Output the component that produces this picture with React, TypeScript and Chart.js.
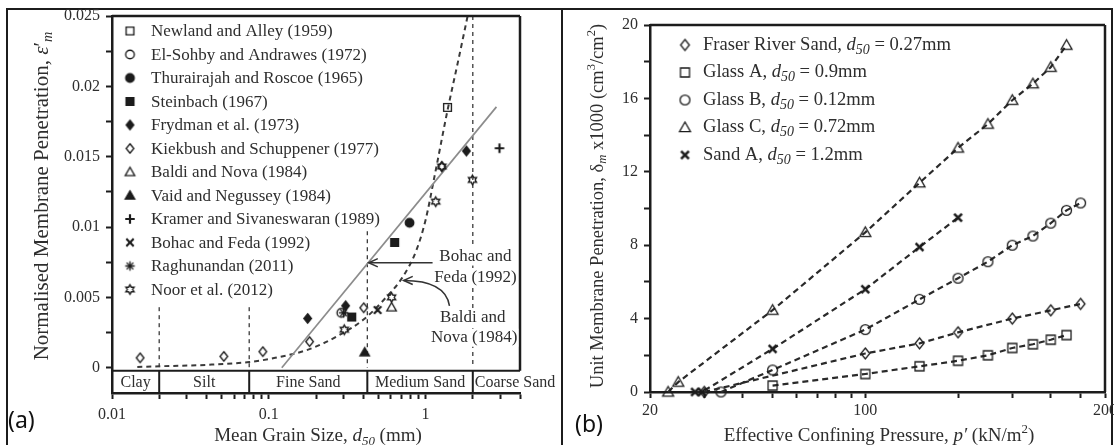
import React, { useEffect, useRef } from 'react';
import { Chart, registerables } from 'chart.js';

Chart.register(...registerables);

const SERIF = '"Liberation Serif", "Times New Roman", serif';
const SANS = '"Noto Sans", "Open Sans", sans-serif';
const TEXT = '#2e2e2e';
const INK = '#1c1c1c';

// ================= Panel (a) =================
const aSeriesNames = [
  'Newland and Alley (1959)',
  'El-Sohby and Andrawes (1972)',
  'Thurairajah and Roscoe (1965)',
  'Steinbach (1967)',
  'Frydman et al. (1973)',
  'Kiekbush and Schuppener (1977)',
  'Baldi and Nova (1984)',
  'Vaid and Negussey (1984)',
  'Kramer and Sivaneswaran (1989)',
  'Bohac and Feda (1992)',
  'Raghunandan (2011)',
  'Noor et al. (2012)',
];
const aMarkerKinds = [
  'squareOpen', 'circleOpen', 'circleFilled', 'squareFilled', 'diamondFilled', 'diamondOpen',
  'triangleOpen', 'triangleFilled', 'plus', 'cross', 'asterisk', 'hexagram',
];

const newlandD50 = [1.38];
const newlandEm = [0.0185];
const elSohbyD50 = [0.29];
const elSohbyEm = [0.0039];
const thurairajahD50 = [0.79];
const thurairajahEm = [0.0103];
const steinbachD50 = [0.338, 0.635];
const steinbachEm = [0.0036, 0.0089];
const frydmanD50 = [0.177, 0.309, 1.82];
const frydmanEm = [0.0035, 0.0044, 0.0154];
const kiekbushD50 = [0.0151, 0.0517, 0.0916, 0.182, 0.403, 1.27];
const kiekbushEm = [0.0007, 0.0008, 0.00114, 0.00185, 0.00426, 0.0143];
const baldiD50 = [0.607];
const baldiEm = [0.0043];
const vaidD50 = [0.409];
const vaidEm = [0.0011];
const kramerD50 = [2.96];
const kramerEm = [0.0156];
const bohacD50 = [0.494];
const bohacEm = [0.0041];
const raghuD50 = [0.3];
const raghuEm = [0.0039];
const noorD50 = [0.303, 0.607, 1.16, 1.27, 1.99];
const noorEm = [0.0027, 0.005, 0.0118, 0.0143, 0.01335];

const aSeriesD50 = [newlandD50, elSohbyD50, thurairajahD50, steinbachD50, frydmanD50, kiekbushD50,
  baldiD50, vaidD50, kramerD50, bohacD50, raghuD50, noorD50];
const aSeriesEm = [newlandEm, elSohbyEm, thurairajahEm, steinbachEm, frydmanEm, kiekbushEm,
  baldiEm, vaidEm, kramerEm, bohacEm, raghuEm, noorEm];

// trend lines
const bohacFitD50 = [0.121, 2.83];
const bohacFitEm = [0, 0.01854];
const baldiFitD50 = [0.0145, 0.02, 0.04, 0.075, 0.11, 0.18, 0.28, 0.41, 0.56, 0.71, 0.87, 1.0, 1.14, 1.38, 1.62, 1.87];
const baldiFitEm = [0.00005, 0.0001, 0.0002, 0.0004, 0.0007, 0.0013, 0.0023, 0.0035, 0.005, 0.0064, 0.0083, 0.0105, 0.0136, 0.0183, 0.0219, 0.0252];

const zoneBounds = [0.02, 0.075, 0.425, 2];
const zoneLineTops = [0.0043, 0.0043, 0.0097, 0.025];
const zoneNames = ['Clay', 'Silt', 'Fine Sand', 'Medium Sand', 'Coarse Sand'];

const aYMin = -0.0018;
const aYMax = 0.025;
const aYTickValues = [0, 0.005, 0.01, 0.015, 0.02, 0.025];
const aYTickLabels = ['0', '0.005', '0.01', '0.015', '0.02', '0.025'];
const aXMin = 0.01;
const aXMax = 4;
const aXTickValues = [0.01, 0.1, 1];
const aXTickLabels = ['0.01', '0.1', '1'];

// ================= Panel (b) =================
const bSeriesNames = ['Fraser River Sand', 'Glass A', 'Glass B', 'Glass C', 'Sand A'];
const bSeriesD50 = ['0.27mm', '0.9mm', '0.12mm', '0.72mm', '1.2mm'];
const bMarkerKinds = ['diamondOpen', 'squareOpen', 'circleOpen', 'triangleOpen', 'cross'];

const fraserP = [30, 100, 150, 200, 300, 400, 500];
const fraserDm = [0, 2.1, 2.65, 3.25, 4.0, 4.45, 4.8];
const glassAP = [50, 100, 150, 200, 250, 300, 350, 400, 450];
const glassADm = [0.35, 0.98, 1.4, 1.7, 2.0, 2.4, 2.6, 2.85, 3.1];
const glassBP = [34, 50, 100, 150, 200, 250, 300, 350, 400, 450, 500];
const glassBDm = [0, 1.2, 3.4, 5.05, 6.2, 7.1, 8.0, 8.5, 9.2, 9.9, 10.3];
const glassCP = [22.9, 24.7, 50, 100, 150, 200, 250, 300, 350, 400, 450];
const glassCDm = [0, 0.54, 4.46, 8.7, 11.4, 13.3, 14.6, 15.9, 16.8, 17.7, 18.9];
const sandAP = [28, 29.5, 50, 100, 150, 200];
const sandADm = [0, 0, 2.35, 5.6, 7.9, 9.5];

const bSeriesP = [fraserP, glassAP, glassBP, glassCP, sandAP];
const bSeriesDm = [fraserDm, glassADm, glassBDm, glassCDm, sandADm];

const bXMin = 20;
const bXMax = 600;
const bXTickValues = [20, 100, 600];
const bXTickLabels = ['20', '100', '200'];
const bYMin = 0;
const bYMax = 20;
const bYTickValues = [0, 4, 8, 12, 16, 20];
const bYTickLabels = ['0', '4', '8', '12', '16', '20'];

// ================= helpers =================
function logTicks(min: number, max: number): number[] {
  const out: number[] = [];
  for (let d = Math.pow(10, Math.floor(Math.log10(min))); d <= max; d *= 10) {
    for (let m = 1; m <= 9; m++) {
      const v = +(m * d).toPrecision(6);
      if (v >= min - 1e-12 && v <= max + 1e-12) out.push(v);
    }
  }
  return out;
}
function linTicks(min: number, max: number, step: number): number[] {
  const out: number[] = [];
  for (let v = min; v <= max + step * 1e-6; v += step) out.push(+v.toPrecision(8));
  return out;
}
function labelFor(v: number, values: number[], labels: string[], log: boolean): string {
  for (let i = 0; i < values.length; i++) {
    const d = log ? Math.abs(Math.log10(v) - Math.log10(values[i])) : Math.abs(v - values[i]);
    if (d < 1e-6) return labels[i];
  }
  return '';
}
const pts = (xs: number[], ys: number[]) => xs.map((x, i) => ({ x, y: ys[i] }));

function makeMarker(kind: string, size: number, lw: number): HTMLCanvasElement {
  const dim = Math.ceil(size + lw + 4);
  const cv = document.createElement('canvas');
  cv.width = dim;
  cv.height = dim;
  const g = cv.getContext('2d') as CanvasRenderingContext2D;
  const c = dim / 2;
  const r = size / 2;
  g.strokeStyle = INK;
  g.fillStyle = INK;
  g.lineWidth = lw;
  g.beginPath();
  if (kind.startsWith('square')) {
    const h = r * 0.82;
    g.rect(c - h, c - h, 2 * h, 2 * h);
  } else if (kind.startsWith('circle')) {
    g.arc(c, c, r * 0.9, 0, Math.PI * 2);
  } else if (kind.startsWith('diamond')) {
    g.moveTo(c, c - r); g.lineTo(c + r * 0.8, c); g.lineTo(c, c + r); g.lineTo(c - r * 0.8, c); g.closePath();
  } else if (kind.startsWith('triangle')) {
    g.moveTo(c, c - r); g.lineTo(c + r, c + r * 0.75); g.lineTo(c - r, c + r * 0.75); g.closePath();
  } else if (kind === 'plus') {
    g.moveTo(c - r, c); g.lineTo(c + r, c); g.moveTo(c, c - r); g.lineTo(c, c + r);
  } else if (kind === 'cross') {
    const k = r * 0.78;
    g.moveTo(c - k, c - k); g.lineTo(c + k, c + k); g.moveTo(c + k, c - k); g.lineTo(c - k, c + k);
  } else if (kind === 'asterisk') {
    for (let i = 0; i < 4; i++) {
      const a = (i * Math.PI) / 4;
      g.moveTo(c + Math.cos(a) * r, c + Math.sin(a) * r);
      g.lineTo(c - Math.cos(a) * r, c - Math.sin(a) * r);
    }
  } else if (kind === 'hexagram') {
    for (let i = 0; i < 12; i++) {
      const a = -Math.PI / 2 + (i * Math.PI) / 6;
      const rr = i % 2 === 0 ? r : r * 0.56;
      const px = c + Math.cos(a) * rr;
      const py = c + Math.sin(a) * rr;
      if (i === 0) g.moveTo(px, py); else g.lineTo(px, py);
    }
    g.closePath();
  }
  if (kind.endsWith('Filled')) g.fill();
  g.stroke();
  return cv;
}

type Run = { t: string; it?: boolean; sub?: boolean; sup?: boolean };
function drawRich(ctx: CanvasRenderingContext2D, runs: Run[], x: number, y: number, size: number,
  align: 'left' | 'center' | 'right', color = TEXT, subScale = 0.68): number {
  const parts = runs.map((r) => {
    const s = r.sub || r.sup ? size * subScale : size;
    const font = `${r.it ? 'italic ' : ''}${s}px ${SERIF}`;
    ctx.font = font;
    return { t: r.t, font, w: ctx.measureText(r.t).width, dy: r.sub ? size * 0.28 : r.sup ? -size * 0.32 : 0 };
  });
  const total = parts.reduce((a, p) => a + p.w, 0);
  let cx = align === 'left' ? x : align === 'center' ? x - total / 2 : x - total;
  ctx.fillStyle = color;
  ctx.textBaseline = 'middle';
  ctx.textAlign = 'left';
  for (const p of parts) {
    ctx.font = p.font;
    ctx.fillText(p.t, cx, y + p.dy);
    cx += p.w;
  }
  return total;
}

function arrowHead(ctx: CanvasRenderingContext2D, tx: number, ty: number, angle: number, len: number) {
  const spread = 0.42;
  ctx.beginPath();
  ctx.moveTo(tx + Math.cos(angle + spread) * len, ty + Math.sin(angle + spread) * len);
  ctx.lineTo(tx, ty);
  ctx.lineTo(tx + Math.cos(angle - spread) * len, ty + Math.sin(angle - spread) * len);
  ctx.stroke();
}

const tickFont = { family: SERIF, size: 16 };

// ================= plugins =================
function panelAPlugin(markers: HTMLCanvasElement[]) {
  return {
    id: 'panelA',
    beforeDatasetsDraw(chart: any) {
      const { ctx, scales } = chart;
      const x = scales.x, y = scales.y;
      ctx.save();
      ctx.setLineDash([4, 4]);
      ctx.lineWidth = 1.3;
      ctx.strokeStyle = '#3a3a3a';
      zoneBounds.forEach((b, i) => {
        const px = x.getPixelForValue(b);
        ctx.beginPath();
        ctx.moveTo(px, y.getPixelForValue(zoneLineTops[i]));
        ctx.lineTo(px, y.getPixelForValue(0));
        ctx.stroke();
      });
      ctx.restore();
    },
    afterDraw(chart: any) {
      const { ctx, chartArea: ca, scales } = chart;
      const x = scales.x, y = scales.y;
      ctx.save();
      const y0 = y.getPixelForValue(0);
      const bandTop = y0 + 3;
      ctx.setLineDash([]);
      ctx.strokeStyle = INK;
      ctx.lineWidth = 2.5;
      ctx.beginPath();
      ctx.moveTo(ca.left, ca.top); ctx.lineTo(ca.right, ca.top);
      ctx.moveTo(ca.right, ca.top); ctx.lineTo(ca.right, bandTop);
      ctx.stroke();
      ctx.lineWidth = 2;
      ctx.beginPath();
      ctx.moveTo(ca.left, bandTop); ctx.lineTo(ca.right, bandTop);
      const seps = zoneBounds.map((b) => x.getPixelForValue(b));
      seps.forEach((px) => { ctx.moveTo(px, bandTop); ctx.lineTo(px, ca.bottom); });
      ctx.stroke();
      const edges = [ca.left, ...seps];
      const midY = (bandTop + ca.bottom) / 2 + 1;
      ctx.font = `16px ${SERIF}`;
      ctx.fillStyle = TEXT;
      ctx.textBaseline = 'middle';
      zoneNames.forEach((n, i) => {
        if (i < edges.length - 1) {
          ctx.textAlign = 'center';
          ctx.fillText(n, (edges[i] + edges[i + 1]) / 2, midY);
        } else {
          ctx.textAlign = 'left';
          ctx.fillText(n, edges[i] + 2, midY);
        }
      });

      // annotations
      const boxText = (t: string, cx: number, cy: number) => {
        ctx.font = `17px ${SERIF}`;
        const w = ctx.measureText(t).width;
        ctx.fillStyle = '#fff';
        ctx.fillRect(cx - w / 2 - 1, cy - 9, w + 2, 18);
        ctx.fillStyle = TEXT;
        ctx.textAlign = 'center';
        ctx.textBaseline = 'middle';
        ctx.fillText(t, cx, cy);
      };
      boxText('Bohac and', x.getPixelForValue(2.08), y.getPixelForValue(0.0079));
      boxText('Feda (1992)', x.getPixelForValue(2.08), y.getPixelForValue(0.0064));
      boxText('Baldi and', x.getPixelForValue(2.0), y.getPixelForValue(0.00355));
      boxText('Nova (1984)', x.getPixelForValue(2.04), y.getPixelForValue(0.00213));

      ctx.strokeStyle = '#333';
      ctx.lineWidth = 1.5;
      const ay = y.getPixelForValue(0.00746);
      const ax0 = x.getPixelForValue(1.108);
      const ax1 = x.getPixelForValue(0.4335);
      ctx.beginPath(); ctx.moveTo(ax0, ay); ctx.lineTo(ax1 + 1, ay); ctx.stroke();
      arrowHead(ctx, ax1, ay, 0, 10);

      const sx = x.getPixelForValue(1.42), sy = y.getPixelForValue(0.0044);
      const qx = x.getPixelForValue(1.34), qy = y.getPixelForValue(0.0062);
      const tx = x.getPixelForValue(0.724), ty = y.getPixelForValue(0.0062);
      ctx.beginPath(); ctx.moveTo(sx, sy); ctx.quadraticCurveTo(qx, qy, tx, ty); ctx.stroke();
      arrowHead(ctx, tx, ty, Math.atan2(qy - ty, qx - tx), 10);

      // legend
      aSeriesNames.forEach((n, i) => {
        const ry = ca.top + 15 + i * 23.5;
        const m = markers[i];
        ctx.drawImage(m, ca.left + 18 - m.width / 2, ry - m.height / 2);
        ctx.font = `17px ${SERIF}`;
        ctx.fillStyle = TEXT;
        ctx.textAlign = 'left';
        ctx.textBaseline = 'middle';
        ctx.fillText(n, ca.left + 39, ry + 1);
      });

      // axis titles
      ctx.save();
      ctx.translate(42, 196);
      ctx.rotate(-Math.PI / 2);
      drawRich(ctx, [
        { t: 'Normalised Membrane Penetration, ' }, { t: 'ε', it: true }, { t: '′' }, { t: 'm', it: true, sub: true },
      ], 0, 0, 21, 'center');
      ctx.restore();
      drawRich(ctx, [
        { t: 'Mean Grain Size, ' }, { t: 'd', it: true }, { t: '50', it: true, sub: true }, { t: ' (mm)' },
      ], 318, 436, 19, 'center');

      ctx.font = `23px ${SANS}`;
      ctx.fillStyle = '#111';
      ctx.textAlign = 'left';
      ctx.textBaseline = 'middle';
      ctx.fillText('(a)', 8, 421);
      ctx.restore();
    },
  };
}

function panelBPlugin(markers: HTMLCanvasElement[]) {
  return {
    id: 'panelB',
    afterDraw(chart: any) {
      const { ctx, chartArea: ca } = chart;
      ctx.save();
      ctx.setLineDash([]);
      ctx.strokeStyle = INK;
      ctx.lineWidth = 2.5;
      ctx.beginPath();
      ctx.moveTo(ca.left, ca.top); ctx.lineTo(ca.right, ca.top);
      ctx.moveTo(ca.right, ca.top); ctx.lineTo(ca.right, ca.bottom);
      ctx.stroke();

      bSeriesNames.forEach((n, i) => {
        const ry = ca.top + 20 + i * 27.5;
        const m = markers[i];
        ctx.drawImage(m, ca.left + 35 - m.width / 2, ry - m.height / 2);
        drawRich(ctx, [
          { t: `${n}, ` }, { t: 'd', it: true }, { t: '50', it: true, sub: true }, { t: ` = ${bSeriesD50[i]}` },
        ], ca.left + 53, ry, 18.6, 'left', TEXT, 0.75);
      });

      ctx.save();
      ctx.translate(35, 206);
      ctx.rotate(-Math.PI / 2);
      drawRich(ctx, [
        { t: 'Unit Membrane Penetration, δ' }, { t: 'm', it: true, sub: true }, { t: ' x1000 (cm' },
        { t: '3', sup: true }, { t: '/cm' }, { t: '2', sup: true }, { t: ')' },
      ], 0, 0, 18.5, 'center');
      ctx.restore();
      drawRich(ctx, [
        { t: 'Effective Confining Pressure, ' }, { t: 'p′', it: true }, { t: ' (kN/m' }, { t: '2', sup: true }, { t: ')' },
      ], 316, 436, 19, 'center');

      ctx.font = `23px ${SANS}`;
      ctx.fillStyle = '#111';
      ctx.textAlign = 'left';
      ctx.textBaseline = 'middle';
      ctx.fillText('(b)', 12, 425);
      ctx.restore();
    },
  };
}

function axisCommon() {
  return {
    grid: { display: true, drawOnChartArea: false, drawTicks: true, tickLength: 6, tickWidth: 2, tickColor: INK },
    border: { display: true, color: INK, width: 2.5 },
  };
}

export default function App() {
  const refA = useRef<HTMLCanvasElement>(null);
  const refB = useRef<HTMLCanvasElement>(null);

  useEffect(() => {
    const aMarkers = aMarkerKinds.map((k) => makeMarker(k, 9.5, k === 'plus' || k === 'cross' ? 2.2 : 1.35));
    const bMarkers = bMarkerKinds.map((k) => makeMarker(k, k === 'cross' ? 10 : 11, k === 'cross' ? 2.6 : 1.3));

    const aDatasets: any[] = [
      {
        data: pts(bohacFitD50, bohacFitEm), showLine: true, borderColor: '#8c8c8c', borderWidth: 1.7,
        pointRadius: 0, order: 10,
      },
      {
        data: pts(baldiFitD50, baldiFitEm), showLine: true, borderColor: '#3a3a3a', borderWidth: 2,
        borderDash: [5, 4], pointRadius: 0, cubicInterpolationMode: 'monotone', order: 10,
      },
      ...aSeriesNames.map((n, i) => ({
        label: n, data: pts(aSeriesD50[i], aSeriesEm[i]), showLine: false,
        pointStyle: aMarkers[i], pointRadius: 5, order: 0, clip: false,
      })),
    ];

    const chartA = new Chart(refA.current as HTMLCanvasElement, {
      type: 'scatter',
      data: { datasets: aDatasets },
      options: {
        responsive: false,
        animation: false,
        events: [],
        layout: { padding: { left: 0, right: 41, top: 16, bottom: 0 } },
        plugins: { legend: { display: false }, tooltip: { enabled: false } },
        scales: {
          x: {
            type: 'logarithmic', min: aXMin, max: aXMax, position: 'bottom',
            afterBuildTicks: (s: any) => { s.ticks = logTicks(aXMin, aXMax).map((v) => ({ value: v })); },
            afterFit: (s: any) => { s.height = 52; },
            ticks: {
              autoSkip: false, maxRotation: 0, padding: 6, color: TEXT, font: tickFont,
              callback: (v: any) => labelFor(Number(v), aXTickValues, aXTickLabels, true),
            },
            ...axisCommon(),
          },
          y: {
            type: 'linear', min: aYMin, max: aYMax,
            afterBuildTicks: (s: any) => { s.ticks = linTicks(0, aYMax, 0.0025).map((v) => ({ value: v })); },
            afterFit: (s: any) => { s.width = 112; },
            ticks: {
              autoSkip: false, padding: 6, color: TEXT, font: tickFont,
              callback: (v: any) => labelFor(Number(v), aYTickValues, aYTickLabels, false),
            },
            ...axisCommon(),
          },
        },
      } as any,
      plugins: [panelAPlugin(aMarkers)],
    });

    const bDatasets: any[] = bSeriesNames.map((n, i) => ({
      label: n, data: pts(bSeriesP[i], bSeriesDm[i]), showLine: true,
      borderColor: '#2a2a2a', borderWidth: 2.2, borderDash: [6, 4],
      pointStyle: bMarkers[i], pointRadius: 6, clip: false,
    }));

    const chartB = new Chart(refB.current as HTMLCanvasElement, {
      type: 'scatter',
      data: { datasets: bDatasets },
      options: {
        responsive: false,
        animation: false,
        events: [],
        layout: { padding: { left: 0, right: 35, top: 25, bottom: 0 } },
        plugins: { legend: { display: false }, tooltip: { enabled: false } },
        scales: {
          x: {
            type: 'logarithmic', min: bXMin, max: bXMax, position: 'bottom',
            afterBuildTicks: (s: any) => { s.ticks = logTicks(bXMin, bXMax).map((v) => ({ value: v })); },
            afterFit: (s: any) => { s.height = 53; },
            ticks: {
              autoSkip: false, maxRotation: 0, padding: 3, color: TEXT, font: tickFont,
              callback: (v: any) => labelFor(Number(v), bXTickValues, bXTickLabels, true),
            },
            ...axisCommon(),
          },
          y: {
            type: 'linear', min: bYMin, max: bYMax,
            afterBuildTicks: (s: any) => { s.ticks = linTicks(bYMin, bYMax, 2).map((v) => ({ value: v })); },
            afterFit: (s: any) => { s.width = 87; },
            ticks: {
              autoSkip: false, padding: 6, color: TEXT, font: tickFont,
              callback: (v: any) => labelFor(Number(v), bYTickValues, bYTickLabels, false),
            },
            ...axisCommon(),
          },
        },
      } as any,
      plugins: [panelBPlugin(bMarkers)],
    });

    return () => {
      chartA.destroy();
      chartB.destroy();
    };
  }, []);

  const line = (l: number, t: number, w: number, h: number) => (
    <div style={{ position: 'absolute', left: l, top: t, width: w, height: h, background: INK }} />
  );

  return (
    <div style={{ position: 'absolute', left: 0, top: 0, width: 1114, height: 445, overflow: 'hidden', background: '#fff' }}>
      {line(6, 8, 1106, 2)}
      {line(6, 8, 2, 437)}
      {line(561, 8, 2, 437)}
      {line(1111, 8, 2, 437)}
      <canvas ref={refA} width={561} height={445} style={{ position: 'absolute', left: 0, top: 0, width: 561, height: 445 }} />
      <canvas ref={refB} width={577} height={445} style={{ position: 'absolute', left: 563, top: 0, width: 577, height: 445 }} />
    </div>
  );
}
